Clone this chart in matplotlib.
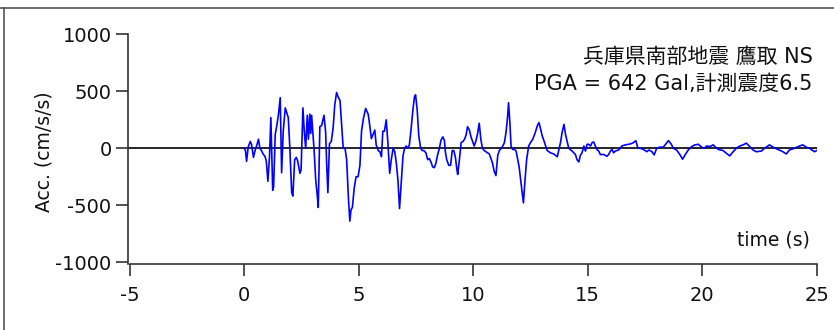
import matplotlib
matplotlib.use("Agg")
import matplotlib.pyplot as plt
from matplotlib.lines import Line2D

# ---- data ----
time_s = [0.00, 0.05, 0.10, 0.17, 0.26, 0.32, 0.40, 0.47, 0.55, 0.62, 0.68, 0.75, 0.82, 0.90, 0.96,
          1.03, 1.10, 1.16, 1.24, 1.28, 1.35, 1.42, 1.50, 1.57, 1.63, 1.70, 1.79, 1.86, 1.92, 1.99,
          2.07, 2.12, 2.20, 2.27, 2.33, 2.43, 2.48, 2.56, 2.62, 2.68, 2.75, 2.80, 2.86, 2.90, 2.94,
          3.05, 3.12, 3.18, 3.23, 3.30, 3.38, 3.48, 3.55, 3.60, 3.65, 3.72, 3.80, 3.88, 3.95,
          4.03, 4.10, 4.18, 4.26, 4.32, 4.40, 4.47, 4.55, 4.61, 4.66, 4.72, 4.80, 4.88, 4.97,
          5.05, 5.12, 5.20, 5.30, 5.41, 5.48, 5.55, 5.62, 5.70, 5.76, 5.85, 5.92, 5.99,
          6.05, 6.12, 6.20, 6.27, 6.35, 6.42, 6.50, 6.57, 6.64, 6.71, 6.78, 6.86, 6.93,
          7.00, 7.07, 7.14, 7.21, 7.28, 7.36, 7.43, 7.48, 7.55, 7.62, 7.70, 7.77, 7.84, 7.93,
          8.01, 8.08, 8.15, 8.23, 8.30, 8.37, 8.44, 8.52, 8.59, 8.67, 8.74, 8.78, 8.84, 8.93,
          9.01, 9.08, 9.15, 9.22, 9.28, 9.32, 9.40, 9.47, 9.55, 9.62, 9.69, 9.75, 9.83, 9.90, 9.97,
          10.04, 10.11, 10.18, 10.26, 10.33, 10.40, 10.48, 10.55, 10.70, 10.84, 10.91, 10.99,
          11.07, 11.14, 11.22, 11.29, 11.36, 11.43, 11.50, 11.54, 11.60, 11.65, 11.72, 11.80, 11.87,
          12.00, 12.10, 12.19, 12.26, 12.33, 12.42, 12.50, 12.60, 12.71, 12.80, 12.87, 12.94,
          13.01, 13.08, 13.16, 13.23, 13.37, 13.52, 13.67, 13.74, 13.81, 13.88, 13.96,
          14.03, 14.10, 14.17, 14.32, 14.46, 14.53, 14.61, 14.68, 14.75, 14.83, 14.90, 14.97,
          15.04, 15.12, 15.19, 15.26, 15.33, 15.40, 15.48, 15.55, 15.70, 15.84, 15.91, 15.99,
          16.06, 16.13, 16.20, 16.35, 16.49, 16.64, 16.86, 17.00, 17.10, 17.19, 17.29, 17.43,
          17.58, 17.68, 17.80, 17.90, 18.01, 18.16, 18.30, 18.38, 18.52, 18.64, 18.74, 18.88,
          19.03, 19.14, 19.25, 19.39, 19.54, 19.68, 19.83, 19.97, 20.09, 20.19, 20.33, 20.48,
          20.55, 20.70, 20.91, 21.06, 21.20, 21.35, 21.49, 21.64, 21.78, 21.93, 22.07, 22.22,
          22.36, 22.58, 22.72, 22.94, 23.09, 23.30, 23.52, 23.67, 23.81, 24.03, 24.25, 24.39,
          24.54, 24.68, 24.83, 24.90, 25.00]
acc_gal = [0, -20, -115, 10, 60, 30, -80, -20, 30, 80, 0, -20, -50, -70, -110,
           -290, -80, 270, -370, -340, 120, 200, 310, 445, -215, 150, 355, 310, 270, 0,
           -390, -420, -100, -80, -110, -220, -190, 355, 150, 0, 290, 80, 300, 130, 290,
           -20, -280, -400, -520, 190, 200, 290, 150, -150, -390, 40, 60, 180, 380,
           490, 450, 420, 180, 0, 0, -100, -450, -640, -540, -520, -350, -250, -250,
           -150, 150, 260, 350, 300, 200, 85, 120, 160, 30, -20, -30, -75,
           150, 150, 250, 50, -220, -100, 0, -30, -130, -280, -530, -280, -70,
           0, 20, 0, 30, 160, 330, 450, 470, 340, 110, 0, -20, -20, -40,
           -100, -90, -120, -165, -170, -130, -60, 0, 70, 100, 70, -30, -100, -150,
           -150, -20, -20, -80, -180, -230, -90, 50, 60, 80, 120, 190, 160, 100, 60,
           20, 60, 120, 220, 80, 0, -20, -30, -50, -130, -200, -240,
           -60, -20, 0, 20, 50, 140, 280, 400, 220, 20, -10, -10, -25,
           -160, -330, -480, -280, -100, 20, 50, 80, 140, 200, 225, 170,
           110, 70, 20, -20, -40, -50, -75, -10, 50, 140, 210,
           120, 60, 0, -25, -55, -100, -120, -60, -40, 20, -25, 35,
           35, 20, 50, 55, 20, -10, -25, -55, -55, -70, -55, -25,
           -10, -40, -25, -15, 20, 30, 38, 50, 67, 0, 0, -10,
           -30, -15, -30, -58, 0, 10, 10, 30, 67, 38, 0, -15,
           -58, -96, -58, -15, 15, 30, 35, 10, 0, 20, 15, 30,
           15, -10, -20, -45, -67, -30, 0, 20, 30, 45, 15, -15,
           -30, -25, 0, 30, 10, -10, -30, -50, -15, 0, 20, 30,
           10, 0, -20, -30, -20]

x_ticks = [-5, 0, 5, 10, 15, 20, 25]
y_ticks = [-1000, -500, 0, 500, 1000]
title_line1 = "兵庫県南部地震 鷹取 NS"
title_line2 = "PGA = 642 Gal,計測震度6.5"

# ---- figure ----
plt.rcParams['font.family'] = ['DejaVu Sans', 'Noto Sans CJK JP']
fig = plt.figure(figsize=(8.34, 3.30), dpi=100)
ax = fig.add_axes([0.1529, 0.200, 0.8264, 0.6955])

ax.plot(time_s, acc_gal, color=(0, 0, 1), lw=1.2, zorder=3, solid_joinstyle='round')
ax.axhline(0, color='black', lw=1.2, zorder=2)

ax.set_xlim(-5.1, 25)
ax.set_ylim(-1017, 1000)
ax.set_xticks(x_ticks)
ax.set_yticks(y_ticks)
ax.set_xticklabels([str(v) for v in x_ticks])
ax.set_yticklabels([str(v) for v in y_ticks])

for s in ['top', 'right']:
    ax.spines[s].set_visible(False)
for s in ['left', 'bottom']:
    ax.spines[s].set_linewidth(1.2)
    ax.spines[s].set_color('#333333')
ax.spines['bottom'].set_bounds(-5, 25)
ax.tick_params(axis='both', direction='out', length=8.5, width=1.2, color='#333333',
               labelsize=14, labelcolor='#111111')
ax.tick_params(axis='x', pad=7)
ax.tick_params(axis='y', pad=3)

ax.set_ylabel("Acc. (cm/s/s)", fontsize=13.5, color='#111111')
ax.yaxis.set_label_coords(-0.107, 0.49)

ax.text(0.990, 0.105, "time (s)", transform=ax.transAxes, ha='right', va='center',
        fontsize=13.5, color='#111111')

txt_family = ['DejaVu Sans', 'Noto Sans CJK JP']
ax.text(0.994, 0.902, title_line1, transform=ax.transAxes, ha='right', va='center',
        fontsize=15, family=txt_family, color='#111111')
ax.text(0.994, 0.786, title_line2, transform=ax.transAxes, ha='right', va='center',
        fontsize=15, family=txt_family, color='#111111')

# outer frame lines (top and left edges visible in the reference)
fig.add_artist(Line2D([0, 1], [1 - 8/330, 1 - 8/330], transform=fig.transFigure,
                      color='#555555', lw=1.2))
fig.add_artist(Line2D([3.5/834, 3.5/834], [0, 1 - 8/330], transform=fig.transFigure,
                      color='#555555', lw=1.2))

fig.savefig("out.png", dpi=100)
